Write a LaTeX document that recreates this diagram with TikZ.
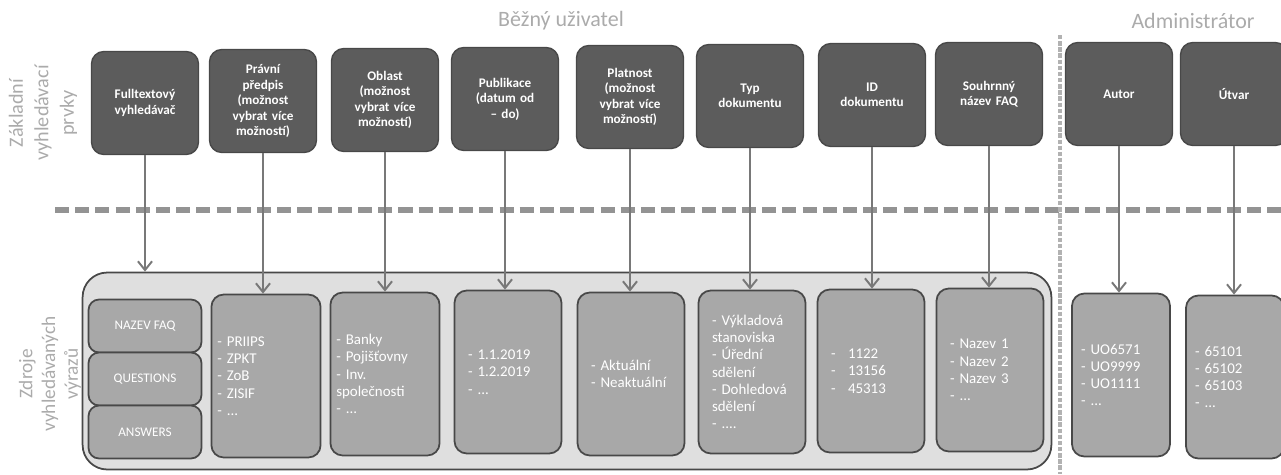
\documentclass[tikz,border=0pt]{standalone}
\usepackage{fontspec}
\setmainfont{Carlito}
\usepackage{tikz}
\usetikzlibrary{arrows.meta, positioning}
\definecolor{topgray}{HTML}{5C5C5C}
\definecolor{srcgray}{HTML}{A8A8A8}
\definecolor{framegray}{HTML}{484848}
\definecolor{panelgray}{HTML}{DFDFDF}
\definecolor{labelgray}{HTML}{ABABAB}
\definecolor{arrowgray}{HTML}{787878}

\begin{document}
\begin{tikzpicture}[x=0.02cm, y=-0.02cm, every node/.style={font=\fontsize{8.5}{9.8}\selectfont},
  prvek/.style={draw=framegray, line width=0.8pt, rounded corners=7pt, fill=topgray, text=white, minimum width=2.14cm, minimum height=2.06cm, text width=1.9cm, align=center, font=\bfseries\fontsize{7.5}{8.8}\selectfont},
  zdroj/.style={draw=framegray, line width=1pt, rounded corners=7pt, fill=srcgray, text=white, minimum width=2.14cm, minimum height=3.26cm, text width=1.6cm, align=left},
  faqbox/.style={draw=framegray, line width=1pt, rounded corners=6pt, fill=srcgray, text=white, minimum width=2.26cm, minimum height=1.06cm, align=center, font=\fontsize{7.5}{9}\selectfont},
  skupina/.style={text=labelgray, font=\fontsize{12.5}{15}\selectfont},
  pointer/.style={draw=arrowgray, line width=1.1pt, -{Straight Barb[length=5pt, width=8pt]}}]
  \useasboundingbox (0,0) rectangle (1281,474);

  % headings
  \node[skupina] (bezny) at (561,21) {Běžný uživatel};
  \node[skupina] (admin) at (1193,21) {Administrátor};
  \node[skupina, rotate=90, align=center, font=\fontsize{11.5}{14.5}\selectfont] (zakladni) at (43,113) {Základní\\vyhledávací\\prvky};
  \node[skupina, rotate=90, align=center, font=\fontsize{11}{13}\selectfont] (zdrojelbl) at (50,374) {Zdroje\\vyhledávaných\\výrazů};

  % dividers
  \draw[draw=gray!85, line width=3pt, dash pattern=on 8pt off 3.5pt] (55,210) -- (1281,210);
  \draw[draw=gray!60, line width=2.2pt, dash pattern=on 2.5pt off 1pt] (1060,35) -- (1060,474);

  % search elements
  \node[prvek] (fulltext) at (145,103) {Fulltextový\\vyhledávač};
  \node[prvek] (predpis) at (263,101) {Právní\\předpis\\(možnost\\vybrat více\\možností)};
  \node[prvek] (oblast) at (385,100) {Oblast\\(možnost\\vybrat více\\možností)};
  \node[prvek] (publikace) at (505,99) {Publikace\\(datum od\\-- do)};
  \node[prvek] (platnost) at (630,97) {Platnost\\(možnost\\vybrat více\\možností)};
  \node[prvek] (typ) at (750,96) {Typ\\dokumentu};
  \node[prvek] (iddok) at (872,95) {ID\\dokumentu};
  \node[prvek] (faqnazev) at (989,94) {Souhrnný\\název FAQ};
  \node[prvek] (autor) at (1119,94) {Autor};
  \node[prvek] (utvar) at (1234,94) {Útvar};

  % sources
  \node[draw=framegray, line width=1pt, rounded corners=14pt, fill=panelgray, minimum width=19.38cm, minimum height=3.94cm] (zdroje) at (567,371) {};
  \node[faqbox] (nazevfaq) at (145,326) {NAZEV FAQ};
  \node[faqbox] (questions) at (145,379) {QUESTIONS};
  \node[faqbox] (answers) at (145,432) {ANSWERS};
  \node[zdroj, text width=1.95cm] (zpredpis) at (266,376) {- PRIIPS\\- ZPKT\\- ZoB\\- ZISIF\\- ...};
  \node[zdroj, text width=1.95cm] (zoblast) at (385,374) {- Banky\\- Pojišťovny\\- Inv.\\společnosti\\- ...};
  \node[zdroj] (zpublikace) at (508,372) {- 1.1.2019\\- 1.2.2019\\- ...};
  \node[zdroj] (zplatnost) at (631,374) {- Aktuální\\- Neaktuální};
  \node[zdroj] (ztyp) at (752,372) {- Výkladová\\stanoviska\\- Úřední\\sdělení\\- Dohledová\\sdělení\\- ....};
  \node[zdroj] (ziddok) at (871,371) {- \hspace{0.5em}1122\\- \hspace{0.5em}13156\\- \hspace{0.5em}45313};
  \node[zdroj] (zfaqnazev) at (990,370) {- Nazev 1\\- Nazev 2\\- Nazev 3\\- ...};
  \node[zdroj, minimum width=1.96cm] (zautor) at (1121,375) {- UO6571\\- UO9999\\- UO1111\\- ...};
  \node[zdroj, minimum width=1.96cm] (zutvar) at (1235,377) {- 65101\\- 65102\\- 65103\\- ...};

  % connectors
  \draw[pointer] (fulltext.south) -- (fulltext.south |- zdroje.north);
  \foreach \a/\b in {predpis/zpredpis, oblast/zoblast, publikace/zpublikace, platnost/zplatnost, typ/ztyp, iddok/ziddok, faqnazev/zfaqnazev, autor/zautor, utvar/zutvar}
    \draw[pointer] (\a.south) -- (\a.south |- \b.north);
\end{tikzpicture}
\end{document}
